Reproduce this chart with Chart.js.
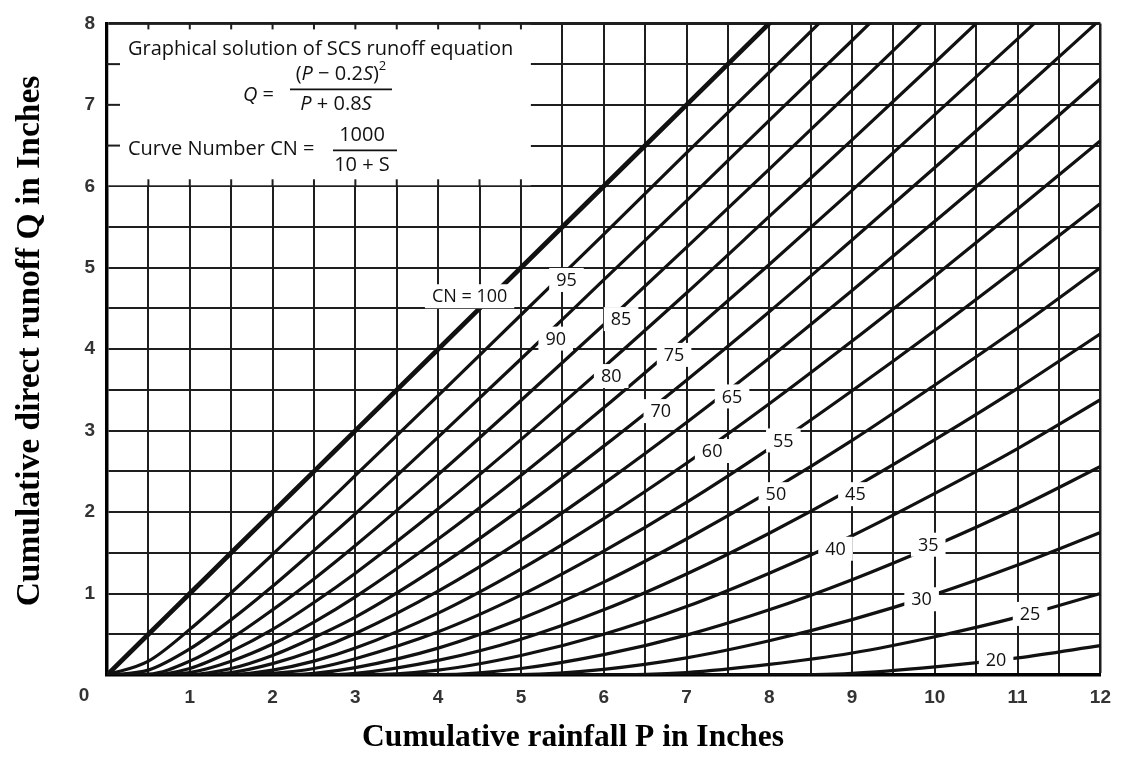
<!DOCTYPE html>
<html>
<head>
<meta charset="utf-8">
<title>Graphical solution of SCS runoff equation</title>
<script src="https://cdn.jsdelivr.net/npm/chart.js@4.4.1/dist/chart.umd.min.js"></script>
<style>
  html, body { margin: 0; padding: 0; background: #ffffff; }
  #wrap { width: 1122px; height: 760px; position: relative; }
</style>
</head>
<body>
<div id="wrap"><canvas id="runoffChart" width="1122" height="760"></canvas></div>
<script>
// Cumulative rainfall P (inches) at which each curve is sampled
const rainfallP = [0, 0.5, 1, 1.5, 2, 2.5, 3, 4, 5, 6, 7, 8, 9, 10, 11, 12];

// Curve numbers, one curve each
const curveNumbers = [100, 95, 90, 85, 80, 75, 70, 65, 60, 55, 50, 45, 40, 35, 30, 25, 20];

// Cumulative direct runoff Q (inches) for each curve number, at the rainfall values above
const runoffCN100 = [0, 0.5, 1, 1.5, 2, 2.5, 3, 4, 5, 6, 7, 8, 9, 10, 11, 12];
const runoffCN95  = [0, 0.17, 0.56, 1.01, 1.48, 1.96, 2.45, 3.43, 4.42, 5.41, 6.41, 7.40, 8.40, 9.40, 10.39, 11.39];
const runoffCN90  = [0, 0.06, 0.32, 0.68, 1.09, 1.53, 1.98, 2.92, 3.88, 4.85, 5.82, 6.81, 7.79, 8.78, 9.77, 10.76];
const runoffCN85  = [0, 0.01, 0.17, 0.45, 0.80, 1.18, 1.59, 2.46, 3.37, 4.30, 5.25, 6.21, 7.18, 8.16, 9.13, 10.11];
const runoffCN80  = [0, 0, 0.08, 0.29, 0.56, 0.89, 1.25, 2.04, 2.89, 3.78, 4.69, 5.63, 6.57, 7.52, 8.48, 9.45];
const runoffCN75  = [0, 0, 0.03, 0.17, 0.38, 0.65, 0.96, 1.67, 2.45, 3.28, 4.15, 5.04, 5.95, 6.88, 7.81, 8.76];
const runoffCN70  = [0, 0, 0.005, 0.08, 0.24, 0.46, 0.71, 1.33, 2.04, 2.81, 3.62, 4.46, 5.34, 6.23, 7.13, 8.05];
const runoffCN65  = [0, 0, 0, 0.03, 0.14, 0.30, 0.51, 1.03, 1.65, 2.35, 3.10, 3.89, 4.72, 5.57, 6.43, 7.32];
const runoffCN60  = [0, 0, 0, 0.004, 0.06, 0.17, 0.33, 0.76, 1.30, 1.92, 2.60, 3.33, 4.10, 4.90, 5.72, 6.56];
const runoffCN55  = [0, 0, 0, 0, 0.02, 0.08, 0.20, 0.53, 0.98, 1.52, 2.12, 2.78, 3.49, 4.23, 5.00, 5.79];
const runoffCN50  = [0, 0, 0, 0, 0, 0.02, 0.09, 0.33, 0.69, 1.14, 1.67, 2.25, 2.88, 3.56, 4.26, 5.00];
const runoffCN45  = [0, 0, 0, 0, 0, 0, 0.02, 0.18, 0.44, 0.80, 1.24, 1.74, 2.29, 2.89, 3.52, 4.19];
const runoffCN40  = [0, 0, 0, 0, 0, 0, 0, 0.06, 0.24, 0.50, 0.84, 1.25, 1.71, 2.23, 2.78, 3.38];
const runoffCN35  = [0, 0, 0, 0, 0, 0, 0, 0.004, 0.08, 0.25, 0.49, 0.80, 1.17, 1.59, 2.05, 2.56];
const runoffCN30  = [0, 0, 0, 0, 0, 0, 0, 0, 0.005, 0.07, 0.21, 0.42, 0.68, 0.99, 1.35, 1.75];
const runoffCN25  = [0, 0, 0, 0, 0, 0, 0, 0, 0, 0, 0.03, 0.13, 0.27, 0.47, 0.71, 1.00];
const runoffCN20  = [0, 0, 0, 0, 0, 0, 0, 0, 0, 0, 0, 0, 0.02, 0.10, 0.21, 0.36];

const runoffSeries = [runoffCN100, runoffCN95, runoffCN90, runoffCN85, runoffCN80, runoffCN75,
  runoffCN70, runoffCN65, runoffCN60, runoffCN55, runoffCN50, runoffCN45, runoffCN40,
  runoffCN35, runoffCN30, runoffCN25, runoffCN20];

// Tick labels on each axis
const rainfallTicks = [1, 2, 3, 4, 5, 6, 7, 8, 9, 10, 11, 12];
const runoffTicks = [1, 2, 3, 4, 5, 6, 7, 8];

// Curve labels: text and where along the curve (P, Q) each one sits
const curveLabelText = ['CN = 100', '95', '90', '85', '80', '75', '70', '65', '60', '55', '50', '45', '40', '35', '30', '25', '20'];
const curveLabelP = [4.38, 5.55, 5.42, 6.21, 6.09, 6.85, 6.69, 7.55, 7.31, 8.17, 8.08, 9.04, 8.80, 9.92, 9.84, 11.15, 10.74];
const curveLabelQ = [4.65, 4.85, 4.13, 4.37, 3.67, 3.93, 3.24, 3.42, 2.75, 2.88, 2.22, 2.22, 1.55, 1.60, 0.93, 0.75, 0.18];

const INK = '#111111';
const GRID = '#1e1e1e';
const LABEL_FONT = '"Open Sans", Lato, "Liberation Sans", sans-serif';

const datasets = curveNumbers.map((cn, i) => ({
  label: 'CN ' + cn,
  data: rainfallP.map((p, j) => ({ x: p, y: runoffSeries[i][j] })),
  borderColor: INK,
  borderWidth: cn === 100 ? 4.8 : 3.2,
  pointRadius: 0,
  fill: false,
  cubicInterpolationMode: 'monotone',
  clip: 0
}));

function strokeLine(ctx, x1, y1, x2, y2) {
  ctx.beginPath(); ctx.moveTo(x1, y1); ctx.lineTo(x2, y2); ctx.stroke();
}

// Draws a run of text pieces with their own fonts, centred or left-aligned at (x, y)
function drawRuns(ctx, runs, x, y, align) {
  let total = 0;
  runs.forEach(r => { ctx.font = r.font; total += ctx.measureText(r.t).width; });
  let cx = align === 'center' ? x - total / 2 : x;
  ctx.textAlign = 'left';
  ctx.textBaseline = 'middle';
  runs.forEach(r => {
    ctx.font = r.font;
    ctx.fillText(r.t, cx, y + (r.dy || 0));
    cx += ctx.measureText(r.t).width;
  });
  return total;
}

// Font size that makes a line of text span the given width
function fitSize(ctx, text, family, width) {
  ctx.font = '20px ' + family;
  return 20 * width / ctx.measureText(text).width;
}

// White panel in the upper-left corner carrying the equations
const equationPanel = {
  id: 'equationPanel',
  beforeDatasetsDraw(chart) {
    const { ctx, scales: { x, y } } = chart;
    const L = x.getPixelForValue(0), R = x.getPixelForValue(5.12);
    const T = y.getPixelForValue(8), B = y.getPixelForValue(6);
    ctx.save();
    ctx.fillStyle = '#ffffff';
    ctx.fillRect(L + 1.5, T + 1.5, R - L - 1.5, B - T - 2.5);
    ctx.strokeStyle = GRID;
    ctx.lineWidth = 2;
    for (let v = 0.5; v < 5.12; v += 0.5) {
      const xx = x.getPixelForValue(v);
      strokeLine(ctx, xx, T, xx, T + 6);
      strokeLine(ctx, xx, B - 7, xx, B);
    }
    for (let v = 6.5; v < 8; v += 0.5) {
      const yy = y.getPixelForValue(v);
      strokeLine(ctx, L, yy, L + 13, yy);
    }

    ctx.fillStyle = INK;
    const headline = 'Graphical solution of SCS runoff equation';
    const textSize = fitSize(ctx, headline, LABEL_FONT, 385).toFixed(1);
    const plain = textSize + 'px ' + LABEL_FONT;
    const eq = '20px ' + LABEL_FONT;
    const eqIt = 'italic 20px ' + LABEL_FONT;
    drawRuns(ctx, [{ t: headline, font: plain }], L + 21, T + 26, 'left');

    // Q = (P - 0.2S)^2 / (P + 0.8S)
    drawRuns(ctx, [{ t: 'Q', font: eqIt }, { t: ' =', font: eq }], L + 136, T + 72, 'left');
    drawRuns(ctx, [
      { t: '(', font: eq }, { t: 'P', font: eqIt }, { t: ' \u2212 0.2', font: eq },
      { t: 'S', font: eqIt }, { t: ')', font: eq }, { t: '2', font: '13px ' + LABEL_FONT, dy: -8 }
    ], L + 234, T + 51, 'center');
    ctx.lineWidth = 1.6;
    ctx.strokeStyle = INK;
    strokeLine(ctx, L + 183, T + 66, L + 285, T + 66);
    drawRuns(ctx, [
      { t: 'P', font: eqIt }, { t: ' + 0.8', font: eq }, { t: 'S', font: eqIt }
    ], L + 229, T + 81, 'center');

    // CN = 1000 / (10 + S)
    drawRuns(ctx, [{ t: 'Curve Number CN =', font: plain }], L + 21, T + 126, 'left');
    drawRuns(ctx, [{ t: '1000', font: eq }], L + 255, T + 112, 'center');
    strokeLine(ctx, L + 226, T + 127, L + 290, T + 127);
    drawRuns(ctx, [{ t: '10 + S', font: eq }], L + 255, T + 142, 'center');
    ctx.restore();
  }
};

// Curve-number labels set into gaps along each curve
const curveLabels = {
  id: 'curveLabels',
  afterDatasetsDraw(chart) {
    const { ctx, scales: { x, y } } = chart;
    ctx.save();
    ctx.font = '18px ' + LABEL_FONT;
    ctx.textAlign = 'center';
    ctx.textBaseline = 'middle';
    curveLabelText.forEach((t, i) => {
      const cx = x.getPixelForValue(curveLabelP[i]);
      const cy = y.getPixelForValue(curveLabelQ[i]);
      const w = ctx.measureText(t).width;
      ctx.fillStyle = '#ffffff';
      ctx.fillRect(cx - w / 2 - 7, cy - 12, w + 14, 24);
      ctx.fillStyle = INK;
      ctx.fillText(t, cx, cy + 1);
    });
    ctx.restore();
  }
};

// Axis titles and the shared origin label
const axisTitles = {
  id: 'axisTitles',
  afterDraw(chart) {
    const { ctx, scales: { x, y } } = chart;
    ctx.save();
    ctx.fillStyle = '#000000';
    ctx.textAlign = 'center';
    ctx.textBaseline = 'middle';
    ctx.font = 'bold 31.5px "Liberation Serif", "Times New Roman", serif';
    ctx.fillText('Cumulative rainfall P in Inches', 573, 738);
    ctx.font = 'bold 33.5px "Liberation Serif", "Times New Roman", serif';
    ctx.translate(30, 341);
    ctx.rotate(-Math.PI / 2);
    ctx.fillText('Cumulative direct runoff Q in Inches', 0, 0);
    ctx.restore();

    ctx.save();
    ctx.fillStyle = '#333333';
    ctx.font = 'bold 19px "Liberation Sans", Arial, sans-serif';
    ctx.textAlign = 'center';
    ctx.textBaseline = 'middle';
    ctx.fillText('0', x.getPixelForValue(0) - 23, y.getPixelForValue(0) + 21);
    ctx.restore();
  }
};

const tickFont = { family: '"Liberation Sans", Arial, sans-serif', size: 19, weight: 'bold' };

new Chart(document.getElementById('runoffChart'), {
  type: 'line',
  data: { datasets },
  plugins: [equationPanel, curveLabels, axisTitles],
  options: {
    responsive: false,
    animation: false,
    events: [],
    layout: { padding: { left: 0, right: 19, top: 16, bottom: 0 } },
    plugins: { legend: { display: false }, tooltip: { enabled: false }, title: { display: false } },
    scales: {
      x: {
        type: 'linear',
        min: 0,
        max: 12,
        afterFit: s => { s.height = 85; },
        ticks: {
          stepSize: 0.5,
          autoSkip: false,
          maxRotation: 0,
          padding: 11,
          color: '#333333',
          font: tickFont,
          callback: v => (rainfallTicks.includes(v) ? String(v) : '')
        },
        grid: {
          color: GRID,
          lineWidth: c => (c.tick && c.tick.value === 12 ? 2.5 : 2),
          drawTicks: false
        },
        border: { display: true, color: '#000000', width: 3.5 }
      },
      y: {
        type: 'linear',
        min: 0,
        max: 8,
        afterFit: s => { s.width = 107; },
        ticks: {
          stepSize: 0.5,
          autoSkip: false,
          padding: 12,
          color: '#333333',
          font: tickFont,
          callback: v => (runoffTicks.includes(v) ? String(v) : '')
        },
        grid: {
          color: GRID,
          lineWidth: c => (c.tick && c.tick.value === 8 ? 3 : 2),
          drawTicks: false
        },
        border: { display: true, color: '#000000', width: 3.5 }
      }
    }
  }
});
</script>
</body>
</html>
